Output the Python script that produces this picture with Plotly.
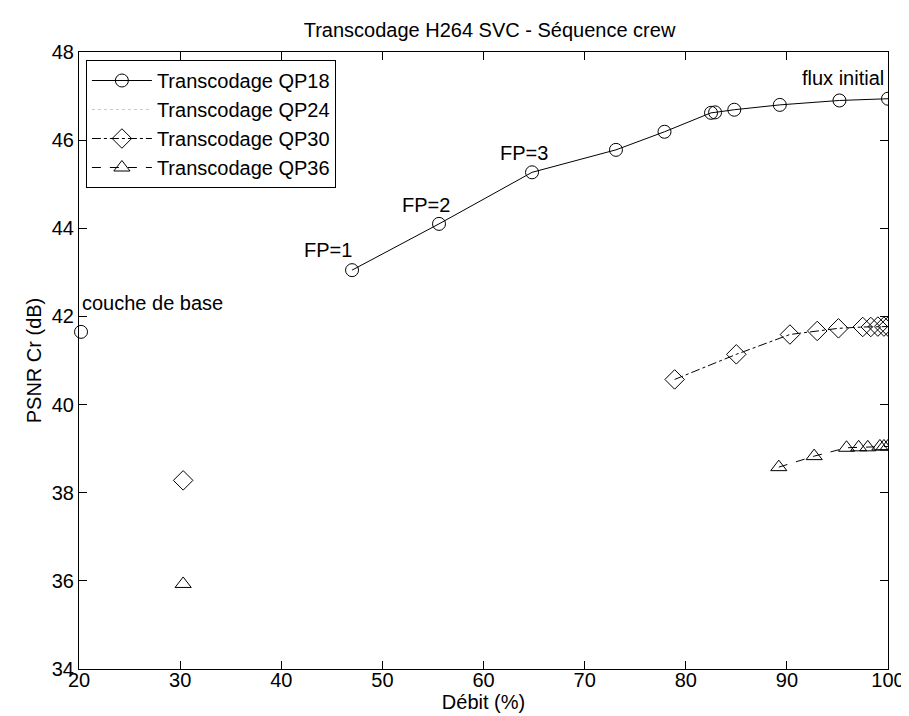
import plotly.graph_objects as go

# Transcodage H264 SVC - sequence crew, PSNR Cr vs debit
debit_qp18 = [47.0, 55.6, 64.8, 73.1, 77.9, 82.5, 82.9, 84.8, 89.3, 95.2, 100.0]
psnr_qp18 = [43.05, 44.10, 45.27, 45.78, 46.19, 46.62, 46.63, 46.69, 46.80, 46.90, 46.94]

# QP24 has no visible points in the figure, only its legend entry
debit_qp24 = [None]
psnr_qp24 = [None]

debit_qp30 = [78.9, 85.0, 90.3, 93.0, 95.1, 97.5, 98.3, 99.0, 99.6, 100.0]
psnr_qp30 = [40.57, 41.14, 41.59, 41.67, 41.73, 41.76, 41.76, 41.77, 41.77, 41.77]

debit_qp36 = [89.2, 92.7, 95.9, 97.1, 98.0, 99.2, 99.6, 100.0]
psnr_qp36 = [38.58, 38.83, 39.02, 39.03, 39.03, 39.05, 39.05, 39.05]

# base layer points (not joined to the curves)
base_debit = {"QP18": 20.2, "QP30": 30.3, "QP36": 30.3}
base_psnr = {"QP18": 41.65, "QP30": 38.28, "QP36": 35.93}

labels = [
    dict(x=20.1, y=42.31, text="couche de base", xanchor="left"),
    dict(x=44.6, y=43.50, text="FP=1", xanchor="center"),
    dict(x=54.3, y=44.52, text="FP=2", xanchor="center"),
    dict(x=64.0, y=45.71, text="FP=3", xanchor="center"),
    dict(x=99.8, y=47.42, text="flux initial", xanchor="right"),
]

FONT = "Liberation Sans, Arial, sans-serif"
FS = 20

fig = go.Figure(
    layout=go.Layout(
        width=909,
        height=716,
        paper_bgcolor="white",
        plot_bgcolor="white",
        margin=dict(l=71, r=17, t=44, b=55),
        font=dict(family=FONT, size=FS, color="black"),
        title=dict(
            text="Transcodage H264 SVC - Séquence crew",
            x=0.5 * (71 + 892) / 909, xanchor="center",
            y=1 - 22 / 716, yanchor="middle",
            font=dict(size=FS),
        ),
        xaxis=dict(
            range=[20, 100],
            tick0=20, dtick=10,
            ticks="inside", ticklen=8, tickcolor="black",
            showline=True, linecolor="black", linewidth=1, mirror="ticks",
            showgrid=False, zeroline=False,
            tickfont=dict(size=FS),
            ticklabelstandoff=-7,
            title=dict(text="Débit (%)", standoff=0, font=dict(size=FS)),
        ),
        yaxis=dict(
            range=[34, 48],
            tick0=34, dtick=2,
            ticks="inside", ticklen=8, tickcolor="black",
            showline=True, linecolor="black", linewidth=1, mirror="ticks",
            showgrid=False, zeroline=False,
            tickfont=dict(size=FS),
            title=dict(text="PSNR Cr (dB)", standoff=4, font=dict(size=FS)),
        ),
        legend=dict(
            x=(78 - 71) / 821, y=1 - (52 - 44) / 617,
            xanchor="left", yanchor="top",
            bgcolor="white",
            bordercolor="black", borderwidth=1,
            font=dict(size=FS),
            itemwidth=60,
            tracegroupgap=0,
        ),
        showlegend=True,
    )
)

fig.add_trace(go.Scatter(
    x=debit_qp18, y=psnr_qp18,
    name="Transcodage QP18",
    mode="lines+markers",
    line=dict(color="black", width=1),
    marker=dict(symbol="circle-open", size=13, color="black", line=dict(width=1)),
))

fig.add_trace(go.Scatter(
    x=debit_qp24, y=psnr_qp24,
    name="Transcodage QP24",
    mode="lines",
    line=dict(color="#c8c8c8", width=1, dash="dot"),
))

fig.add_trace(go.Scatter(
    x=debit_qp30, y=psnr_qp30,
    name="Transcodage QP30",
    mode="lines+markers",
    line=dict(color="black", width=1, dash="dashdot"),
    marker=dict(symbol="diamond-open", size=15, color="black", line=dict(width=1)),
))

fig.add_trace(go.Scatter(
    x=debit_qp36, y=psnr_qp36,
    name="Transcodage QP36",
    mode="lines+markers",
    line=dict(color="black", width=1, dash="dash"),
    marker=dict(symbol="triangle-up-open", size=14, color="black", line=dict(width=1)),
))

symbols = {"QP18": "circle-open", "QP30": "diamond-open", "QP36": "triangle-up-open"}
sizes = {"QP18": 13, "QP30": 15, "QP36": 14}
for key in base_debit:
    fig.add_trace(go.Scatter(
        x=[base_debit[key]], y=[base_psnr[key]],
        mode="markers",
        showlegend=False,
        marker=dict(symbol=symbols[key], size=sizes[key], color="black", line=dict(width=1)),
        cliponaxis=False,
    ))

for lab in labels:
    fig.add_annotation(
        x=lab["x"], y=lab["y"], text=lab["text"],
        xanchor=lab["xanchor"], yanchor="middle",
        showarrow=False, font=dict(size=FS),
    )

fig.write_html("out.html")
